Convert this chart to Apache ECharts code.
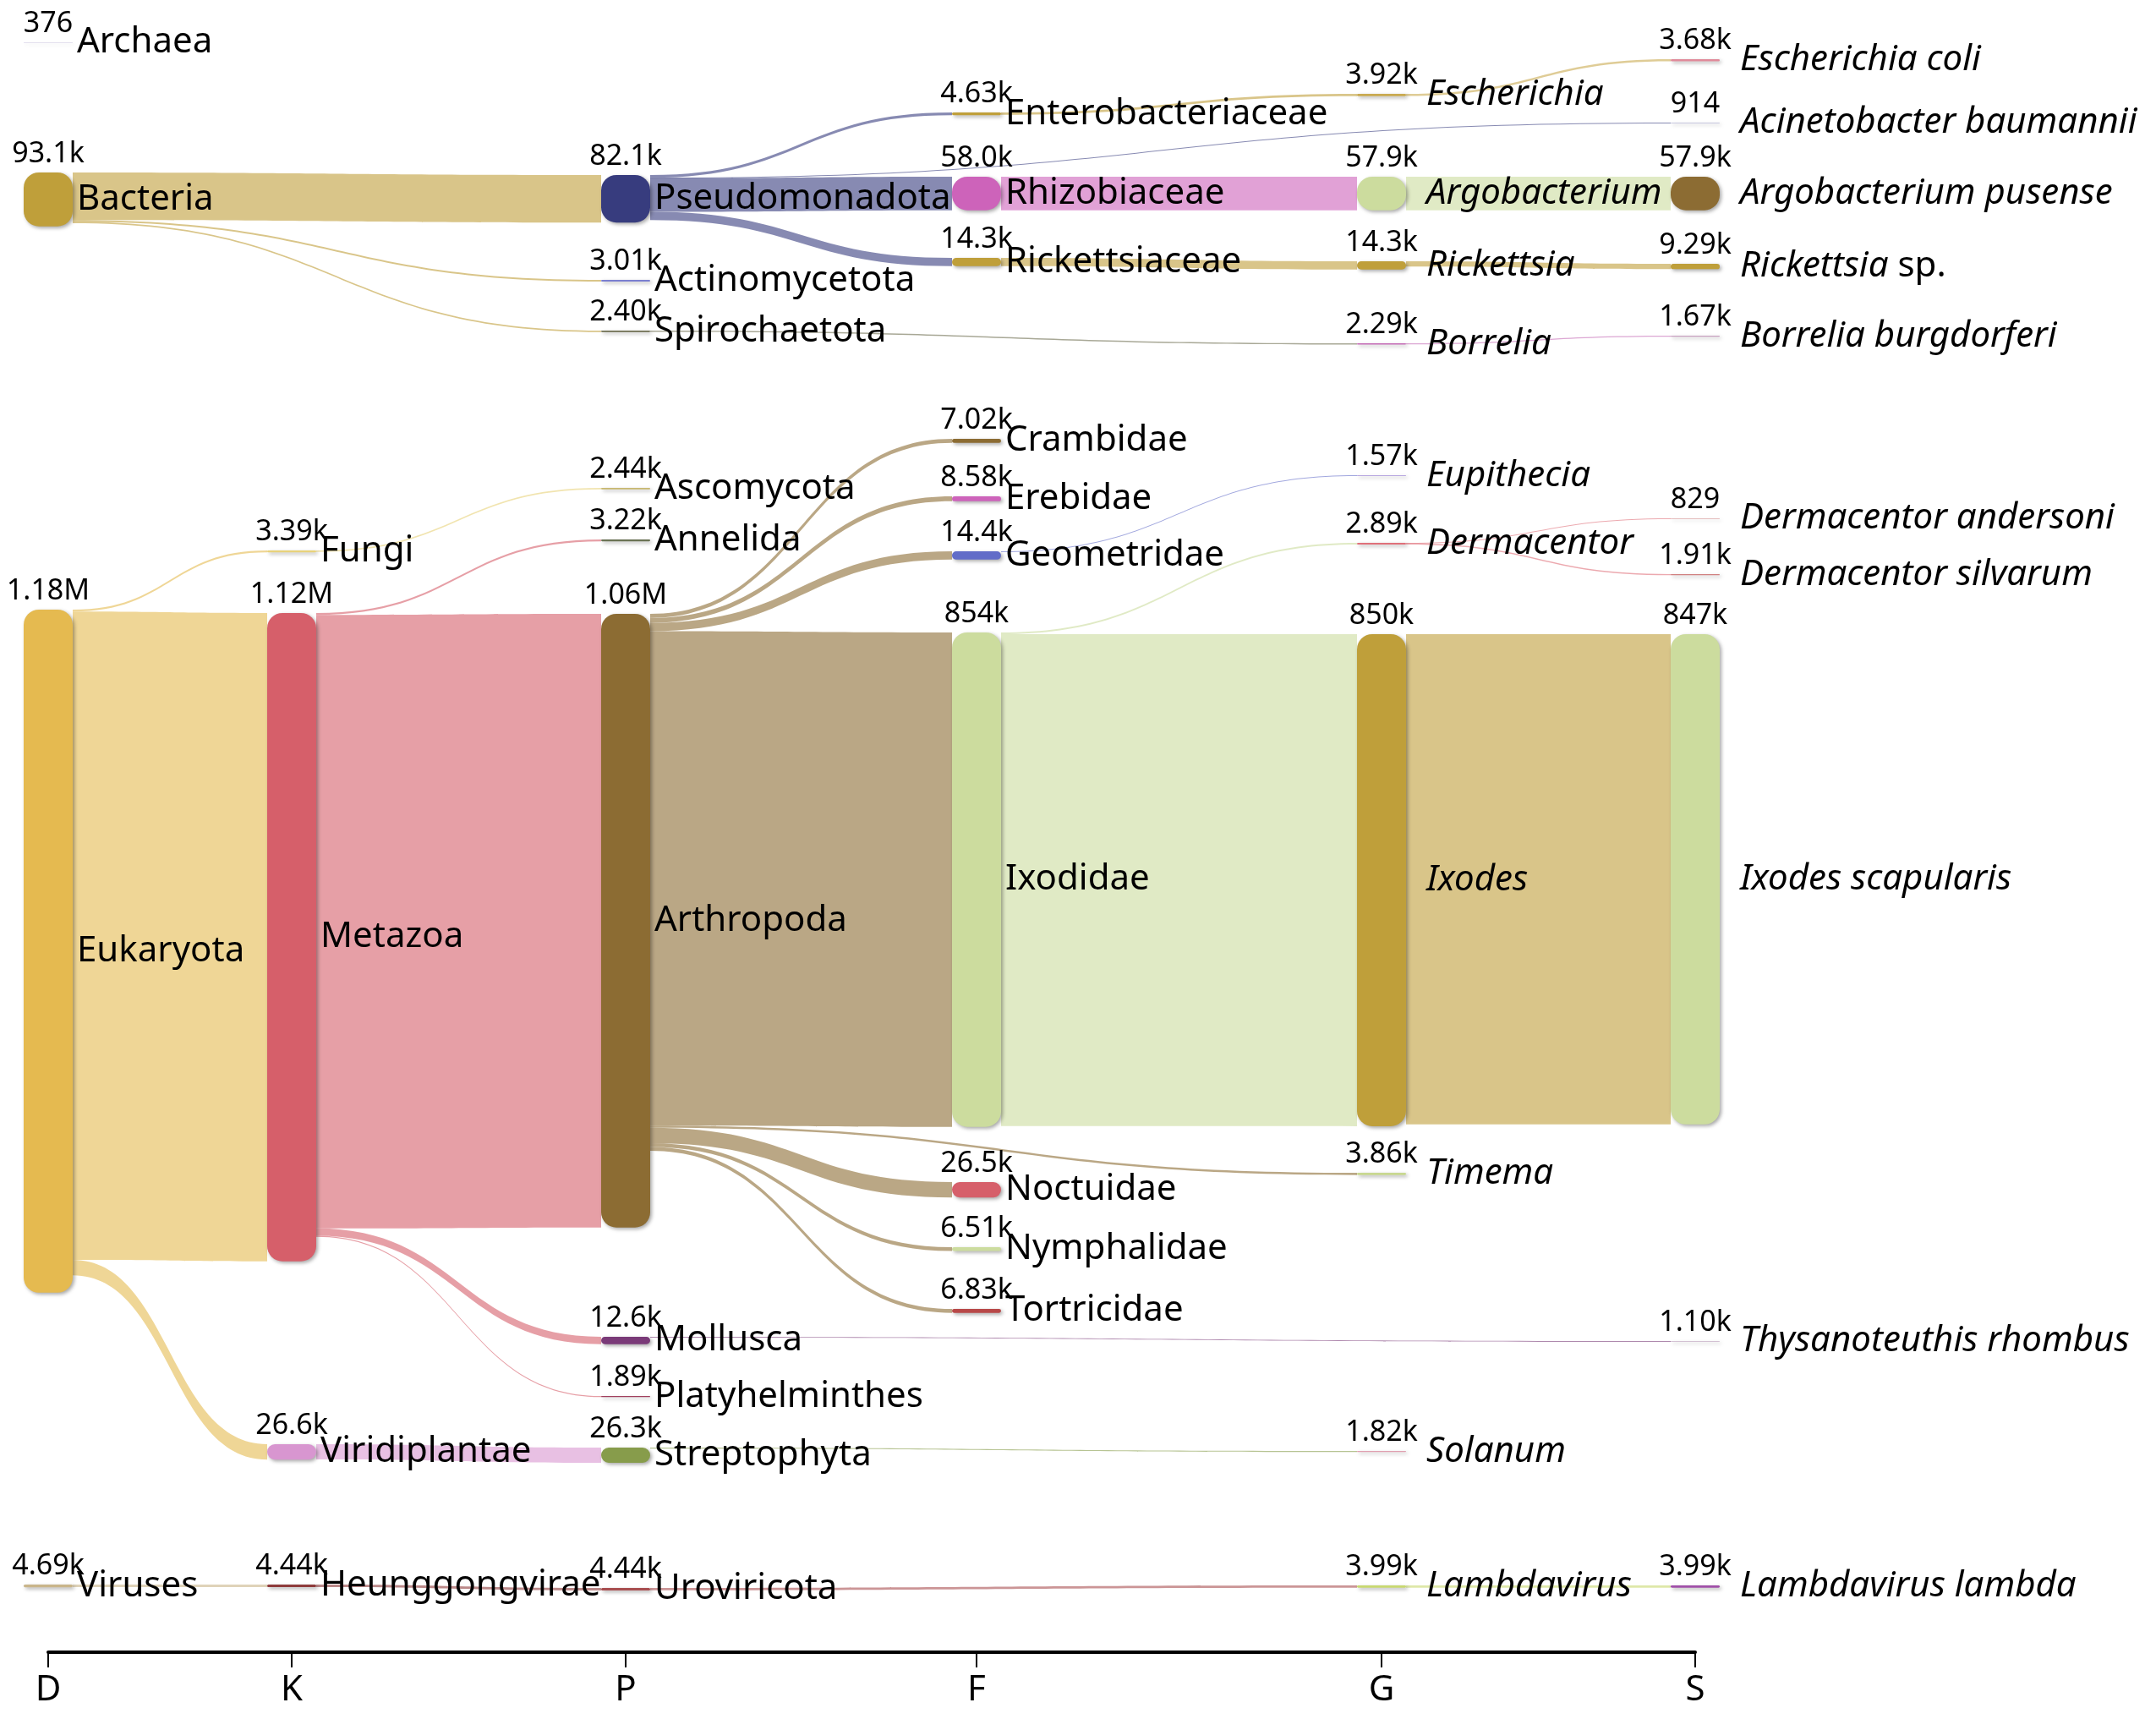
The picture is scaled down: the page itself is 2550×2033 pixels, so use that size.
<!DOCTYPE html>
<html><head><meta charset="utf-8">
<script src="https://cdn.jsdelivr.net/npm/echarts@6/dist/echarts.min.js"></script>
<style>html,body{margin:0;padding:0;background:#fff}#c{width:2550px;height:2033px}</style>
</head><body><div id="c"></div>
<script>
// ---------- DATA ----------
const ranks = ['D', 'K', 'P', 'F', 'G', 'S'];
const nodeNames = [
  'Archaea', 'Bacteria', 'Eukaryota', 'Viruses',
  'Fungi', 'Metazoa', 'Viridiplantae', 'Heunggongvirae',
  'Pseudomonadota', 'Actinomycetota', 'Spirochaetota', 'Ascomycota', 'Annelida', 'Arthropoda', 'Mollusca', 'Platyhelminthes', 'Streptophyta', 'Uroviricota',
  'Enterobacteriaceae', 'Rhizobiaceae', 'Rickettsiaceae', 'Crambidae', 'Erebidae', 'Geometridae', 'Ixodidae', 'Noctuidae', 'Nymphalidae', 'Tortricidae',
  'Escherichia', 'Argobacterium', 'Rickettsia', 'Borrelia', 'Eupithecia', 'Dermacentor', 'Ixodes', 'Timema', 'Solanum', 'Lambdavirus',
  'Escherichia coli', 'Acinetobacter baumannii', 'Argobacterium pusense', 'Rickettsia sp.', 'Borrelia burgdorferi', 'Dermacentor andersoni', 'Dermacentor silvarum', 'Ixodes scapularis', 'Thysanoteuthis rhombus', 'Lambdavirus lambda'
];
const nodeRanks = [
  'D','D','D','D',
  'K','K','K','K',
  'P','P','P','P','P','P','P','P','P','P',
  'F','F','F','F','F','F','F','F','F','F',
  'G','G','G','G','G','G','G','G','G','G',
  'S','S','S','S','S','S','S','S','S','S'
];
const nodeReads = [
  376, 93100, 1180000, 4690,
  3390, 1120000, 26600, 4440,
  82100, 3010, 2400, 2440, 3220, 1060000, 12600, 1890, 26300, 4440,
  4630, 58000, 14300, 7020, 8580, 14400, 854000, 26500, 6510, 6830,
  3920, 57900, 14300, 2290, 1570, 2890, 850000, 3860, 1820, 3990,
  3680, 914, 57900, 9290, 1670, 829, 1910, 847000, 1100, 3990
];
const nodeParents = [
  null, null, null, null,
  'Eukaryota', 'Eukaryota', 'Eukaryota', 'Viruses',
  'Bacteria', 'Bacteria', 'Bacteria', 'Fungi', 'Metazoa', 'Metazoa', 'Metazoa', 'Metazoa', 'Viridiplantae', 'Heunggongvirae',
  'Pseudomonadota', 'Pseudomonadota', 'Pseudomonadota', 'Arthropoda', 'Arthropoda', 'Arthropoda', 'Arthropoda', 'Arthropoda', 'Arthropoda', 'Arthropoda',
  'Enterobacteriaceae', 'Rhizobiaceae', 'Rickettsiaceae', 'Spirochaetota', 'Geometridae', 'Ixodidae', 'Ixodidae', 'Arthropoda', 'Streptophyta', 'Uroviricota',
  'Escherichia', 'Pseudomonadota', 'Argobacterium', 'Rickettsia', 'Borrelia', 'Dermacentor', 'Dermacentor', 'Ixodes', 'Mollusca', 'Lambdavirus'
];

// ---------- LAYOUT & STYLE ----------
const W = 2550;
const NODE_W = 58;
const SERIES_H = 878;              // sets the reads->pixel scale of the sankey
const colCenterX = [57, 345, 740, 1155, 1634, 2005];
const nodeTopY = [
  50, 204, 721, 1874,
  651, 725, 1708, 1874,
  207, 331, 391, 577, 638, 726, 1581, 1651, 1712, 1878,
  133, 209, 305, 519, 587, 652, 748, 1398, 1475, 1548,
  111, 209, 309, 406, 562, 642, 750, 1387, 1716, 1875,
  70, 145, 209, 312, 397, 613, 679, 750, 1586, 1875
];
const nodeColors = [
  '#9B8BC4', '#BF9F3A', '#E5BA50', '#C9B58A',
  '#E8D27A', '#D65F6A', '#D896D0', '#8E3B3B',
  '#373C7E', '#7B7FD0', '#6E6E50', '#C8B870', '#6B7355', '#8C6C33', '#7A3A78', '#A0405E', '#879C4B', '#A84E50',
  '#BF9F3A', '#CD63BA', '#BF9F3A', '#8C6C33', '#CD63BA', '#626DC8', '#CCDC9E', '#D65F6A', '#CCDC9E', '#B84848',
  '#C9AA50', '#CCDC9E', '#BF9F3A', '#C46AB5', '#B8A8E0', '#E0707A', '#BF9F3A', '#C8D890', '#E0A0B0', '#C8D870',
  '#E08A9A', '#B8B8D8', '#8C6C33', '#BF9F3A', '#C8A0C0', '#D08080', '#D08080', '#CCDC9E', '#C8B0C8', '#A050A8'
];
const italicRanks = ['G', 'S'];
const FONT = 'Noto Sans';

function fmtReads(v) {
  if (v >= 1e6) return (v / 1e6).toPrecision(3) + 'M';
  if (v >= 1e3) return (v / 1e3).toPrecision(3) + 'k';
  return String(v);
}

const links = [];
nodeNames.forEach((n, i) => {
  if (nodeParents[i]) links.push({ source: nodeParents[i], target: n, value: nodeReads[i] });
});

function makeNodes(withColor) {
  return nodeNames.map((n, i) => {
    const d = ranks.indexOf(nodeRanks[i]);
    const it = italicRanks.indexOf(nodeRanks[i]) >= 0;
    const o = {
      name: n,
      value: nodeReads[i],
      depth: d,
      localX: (colCenterX[d] - NODE_W / 2) / W,
      localY: nodeTopY[i] / SERIES_H
    };
    if (withColor) {
      o.itemStyle = { color: nodeColors[i] };
      o.label = { distance: it ? 24 : 5 };
    }
    return o;
  });
}

function nameFormatter(p) {
  const i = p.dataIndex;
  const n = nodeNames[i];
  if (italicRanks.indexOf(nodeRanks[i]) < 0) return n;
  if (/ sp\.$/.test(n)) return '{i|' + n.replace(/ sp\.$/, '') + '} sp.';
  return '{i|' + n + '}';
}

const chart = echarts.init(document.getElementById('c'), null, { renderer: 'canvas' });
chart.setOption({
  animation: false,
  backgroundColor: '#fff',
  grid: { left: colCenterX[0], right: W - colCenterX[5], top: 1000, bottom: 2033 - 1954 },
  xAxis: {
    type: 'value', min: colCenterX[0], max: colCenterX[5],
    axisLine: { show: true, lineStyle: { color: '#000', width: 4 } },
    axisTick: { show: true, customValues: colCenterX, length: 18, lineStyle: { color: '#000', width: 2 } },
    axisLabel: {
      show: true, customValues: colCenterX, showMinLabel: true, showMaxLabel: true,
      formatter: v => ranks[colCenterX.indexOf(v)] || '',
      color: '#000', fontSize: 42, fontFamily: FONT, margin: 24
    },
    splitLine: { show: false }
  },
  yAxis: { type: 'value', show: false, min: 0, max: 1 },
  series: [
    { type: 'scatter', data: [], silent: true },
    {
      type: 'sankey', left: 0, top: 0, width: W, height: SERIES_H,
      nodeWidth: NODE_W, nodeGap: 1, layoutIterations: 0, nodeAlign: 'left',
      draggable: false, silent: true,
      emphasis: { disabled: true },
      data: makeNodes(true), links: links,
      itemStyle: { borderRadius: 18, borderWidth: 0, shadowBlur: 4, shadowColor: 'rgba(0,0,0,0.35)', shadowOffsetX: 2, shadowOffsetY: 2 },
      lineStyle: { color: 'source', opacity: 0.6, curveness: 0.5 },
      label: {
        show: true, position: 'right', color: '#000', fontSize: 42, fontFamily: FONT,
        formatter: nameFormatter,
        rich: { i: { fontStyle: 'italic', fontSize: 42, fontFamily: FONT, color: '#000' } }
      }
    },
    {
      type: 'sankey', left: 0, top: 0, width: W, height: SERIES_H,
      nodeWidth: NODE_W, nodeGap: 1, layoutIterations: 0, nodeAlign: 'left',
      draggable: false, silent: true,
      emphasis: { disabled: true },
      data: makeNodes(false), links: links,
      itemStyle: { color: 'rgba(0,0,0,0)', borderWidth: 0 },
      lineStyle: { color: 'rgba(0,0,0,0)', opacity: 0 },
      label: {
        show: true, position: 'top', distance: 5, color: '#000', fontSize: 34, fontFamily: FONT,
        formatter: p => fmtReads(nodeReads[p.dataIndex])
      }
    }
  ]
});
</script>
</body></html>
